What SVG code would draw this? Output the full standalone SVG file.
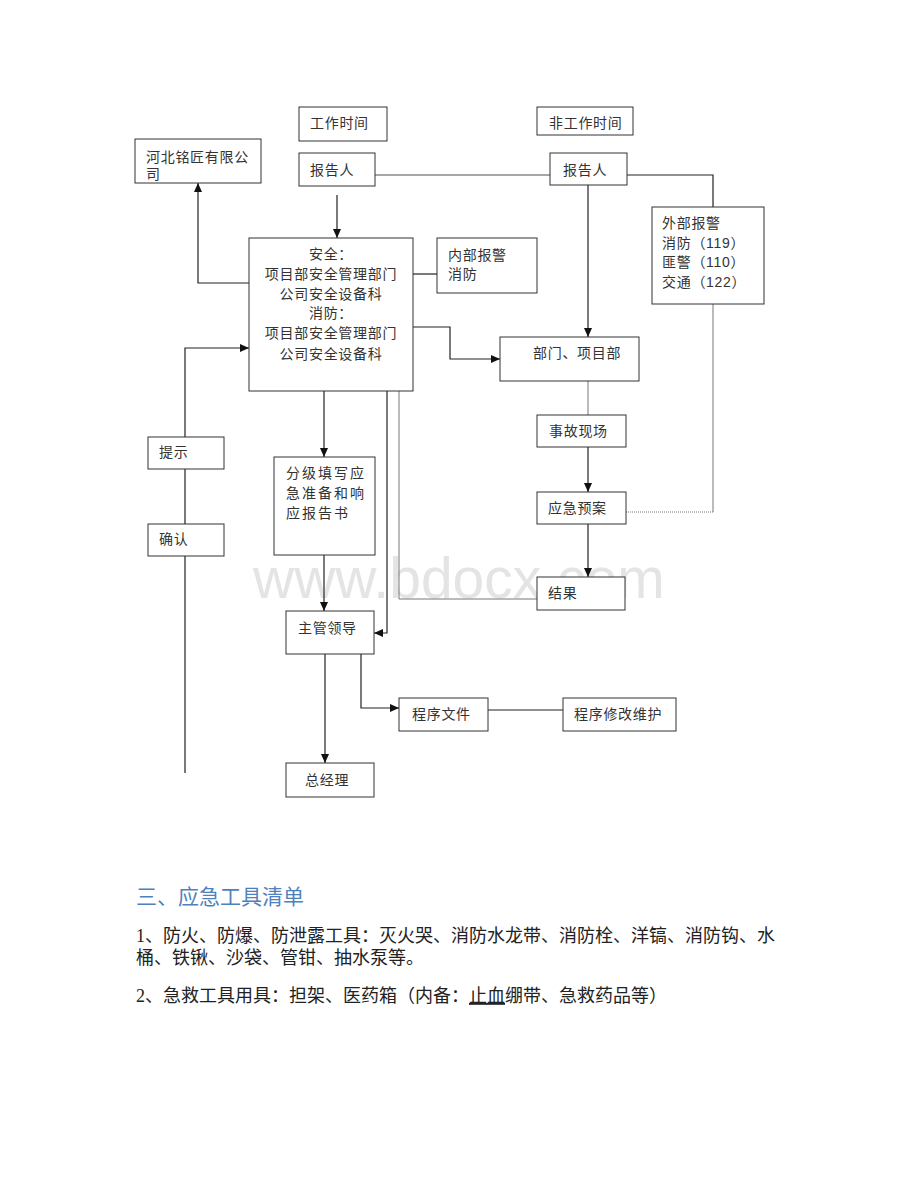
<svg xmlns="http://www.w3.org/2000/svg" width="920" height="1191" viewBox="0 0 920 1191">
<style>
.box{fill:#fff;stroke:#333;stroke-width:1}
.t{font-family:"Liberation Sans","Noto Sans CJK SC",sans-serif;font-size:14px;fill:#333;letter-spacing:0.7px}
.c{text-anchor:middle}
.ln{fill:none;stroke:#222;stroke-width:1.2}
.gl{fill:none;stroke:#777;stroke-width:1}
.body{font-family:"Liberation Serif","Noto Sans CJK SC",serif;font-size:18px;fill:#222}
.head{font-family:"Liberation Sans","Noto Sans CJK SC",sans-serif;font-size:21px;fill:#4f81bd}
</style>
<defs>
<marker id="ah" markerUnits="userSpaceOnUse" markerWidth="9" markerHeight="8" refX="9" refY="4" orient="auto">
<path d="M0,0 L9,4 L0,8 z" fill="#111"/>
</marker>
</defs>
<rect width="920" height="1191" fill="#fff"/>
<text x="253" y="598" font-family="Liberation Sans,Arial,sans-serif" font-size="57" fill="#e4e4e4">www.bdocx.com</text>

<g id="connectors">
<path class="ln" d="M337,195 L337,238" marker-end="url(#ah)"/>
<path class="ln" d="M249,283 L198,283 L198,183" marker-end="url(#ah)"/>
<path d="M375,175 L550,175" fill="none" stroke="#888" stroke-width="1.6"/>
<path class="ln" d="M627,175 L713,175 L713,207"/>
<path class="ln" d="M588,185 L588,337" marker-end="url(#ah)"/>
<path class="ln" d="M413,274 L437,274"/>
<path class="ln" d="M413,327 L450,327 L450,359 L500,359" marker-end="url(#ah)"/>
<path class="ln" d="M185,773 L185,348 L249,348" marker-end="url(#ah)"/>
<path class="ln" d="M324,391 L324,457" marker-end="url(#ah)"/>
<path class="ln" d="M324,555 L324,611" marker-end="url(#ah)"/>
<path class="ln" d="M387,391 L387,633 L374,633" marker-end="url(#ah)"/>
<path class="gl" d="M399,391 L399,599 L537,599"/>
<path class="gl" d="M588,381 L588,415"/>
<path class="ln" d="M588,447 L588,492" marker-end="url(#ah)"/>
<path class="ln" d="M588,524 L588,577" marker-end="url(#ah)"/>
<path class="gl" d="M713,304 L713,512"/>
<path d="M713,512 L626,512" fill="none" stroke="#777" stroke-width="1" stroke-dasharray="1,1"/>
<path class="ln" d="M325,654 L325,763" marker-end="url(#ah)"/>
<path class="ln" d="M361,654 L361,708 L399,708" marker-end="url(#ah)"/>
<path class="ln" d="M488,710 L563,710"/>
</g>

<g id="n-worktime"><rect class="box" x="299" y="107" width="88" height="34"/><text class="t" x="310" y="128">工作时间</text></g>
<g id="n-offtime"><rect class="box" x="537" y="107" width="96" height="28"/><text class="t" x="549" y="128">非工作时间</text></g>
<g id="n-reporter1"><rect class="box" x="299" y="153" width="76" height="33"/><text class="t" x="310" y="175">报告人</text></g>
<g id="n-reporter2"><rect class="box" x="550" y="153" width="77" height="32"/><text class="t" x="563" y="175">报告人</text></g>
<g id="n-company"><rect class="box" x="135" y="139" width="126" height="44"/><text class="t" x="146" y="162">河北铭匠有限公</text><text class="t" x="146" y="179">司</text></g>
<g id="n-main"><rect class="box" x="249" y="238" width="164" height="153"/>
<text class="t c" x="331" y="259">安全：</text>
<text class="t c" x="331" y="279">项目部安全管理部门</text>
<text class="t c" x="331" y="299">公司安全设备科</text>
<text class="t c" x="331" y="318">消防：</text>
<text class="t c" x="331" y="338">项目部安全管理部门</text>
<text class="t c" x="331" y="359">公司安全设备科</text></g>
<g id="n-internal"><rect class="box" x="437" y="238" width="100" height="55"/><text class="t" x="448" y="260">内部报警</text><text class="t" x="448" y="279">消防</text></g>
<g id="n-external"><rect class="box" x="652" y="207" width="112" height="97"/>
<text class="t" x="662" y="228">外部报警</text>
<text class="t" x="662" y="248">消防（119）</text>
<text class="t" x="662" y="267">匪警（110）</text>
<text class="t" x="662" y="287">交通（122）</text></g>
<g id="n-dept"><rect class="box" x="500" y="337" width="139" height="44"/><text class="t" x="533" y="358">部门、项目部</text></g>
<g id="n-scene"><rect class="box" x="537" y="415" width="89" height="32"/><text class="t" x="549" y="436">事故现场</text></g>
<g id="n-plan"><rect class="box" x="537" y="492" width="89" height="32"/><text class="t" x="548" y="513">应急预案</text></g>
<g id="n-result"><rect class="box" x="537" y="577" width="88" height="33"/><text class="t" x="548" y="598">结果</text></g>
<g id="n-hint"><rect class="box" x="148" y="437" width="76" height="32"/><text class="t" x="159" y="457">提示</text></g>
<g id="n-confirm"><rect class="box" x="148" y="524" width="76" height="32"/><text class="t" x="159" y="544">确认</text></g>
<g id="n-report"><rect class="box" x="274" y="457" width="101" height="98"/>
<text class="t" x="286" y="478" style="letter-spacing:2px">分级填写应</text>
<text class="t" x="286" y="498" style="letter-spacing:2px">急准备和响</text>
<text class="t" x="286" y="518" style="letter-spacing:2px">应报告书</text></g>
<g id="n-leader"><rect class="box" x="286" y="611" width="88" height="43"/><text class="t" x="298" y="633">主管领导</text></g>
<g id="n-docs"><rect class="box" x="399" y="698" width="89" height="33"/><text class="t" x="412" y="719">程序文件</text></g>
<g id="n-maint"><rect class="box" x="563" y="698" width="113" height="33"/><text class="t" x="574" y="719">程序修改维护</text></g>
<g id="n-gm"><rect class="box" x="286" y="763" width="88" height="34"/><text class="t" x="305" y="785">总经理</text></g>

<g id="text-section">
<text class="head" x="136" y="904">三、应急工具清单</text>
<text class="body" x="136" y="942" textLength="639" lengthAdjust="spacing">1、防火、防爆、防泄露工具：灭火哭、消防水龙带、消防栓、洋镐、消防钩、水</text>
<text class="body" x="136" y="964">桶、铁锹、沙袋、管钳、抽水泵等。</text>
<text class="body" x="136" y="1002">2、急救工具用具：担架、医药箱（内备：<tspan text-decoration="underline">止血</tspan>绷带、急救药品等）</text>
</g>
</svg>
